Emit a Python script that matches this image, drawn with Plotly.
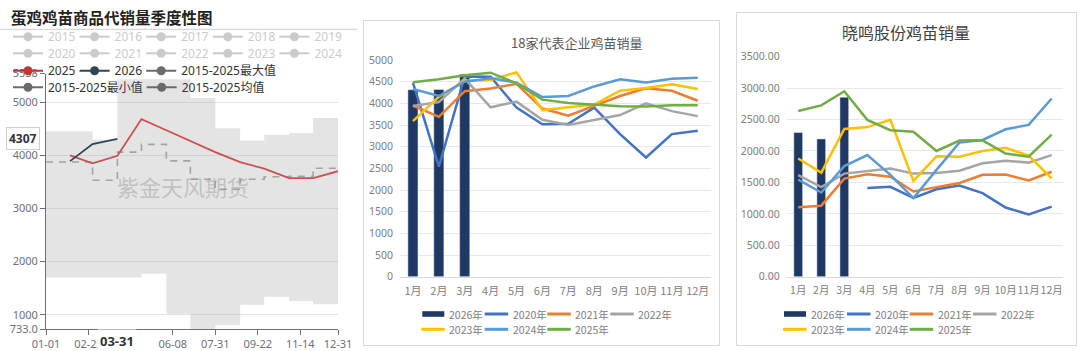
import plotly.graph_objects as go

W, H = 1080, 351
FONT = "Noto Sans, Noto Sans CJK SC, sans-serif"
CJK = "Noto Sans CJK SC, sans-serif"

# ---------------- Left panel: 蛋鸡鸡苗商品代销量季度性图 ----------------
left_month_ends = ['2025-01-31', '2025-02-28', '2025-03-31', '2025-04-30', '2025-05-31', '2025-06-30',
                   '2025-07-31', '2025-08-31', '2025-09-30', '2025-10-31', '2025-11-30', '2025-12-31']
left_step_start = '2025-01-01'
sales_2025 = [4000, 3850, 3990, 4680, 4470, 4270, 4060, 3870, 3750, 3570, 3570, 3700]
sales_2026 = [3890, 4210, 4307]
max_2015_2025 = [4450, 4450, 4290, 5430, 5430, 5430, 5075, 4510, 4280, 4380, 4420, 4700]
min_2015_2025 = [1700, 1700, 1700, 1700, 1770, 1020, 733, 810, 1190, 1340, 1260, 1200]
avg_2015_2025 = [3875, 3875, 3530, 4060, 4205, 3895, 3550, 3360, 3550, 3595, 3605, 3755]
hidden_years_row1 = ['2015', '2016', '2017', '2018', '2019']
hidden_years_row2 = ['2020', '2021', '2022', '2023', '2024']
left_tick_dates = ['2025-01-01', '2025-02-23', '2025-04-17', '2025-06-08', '2025-07-31',
                   '2025-09-22', '2025-11-14', '2025-12-31']
left_tick_text = ['01-01', '02-23', '', '06-08', '07-31', '09-22', '11-14', '12-31']
left_y_ticks = [733, 1000, 2000, 3000, 4000, 5000, 5538]
left_y_text = ['733.0', '1000', '2000', '3000', '4000', '5000', '5538']
pointer_date = '2025-03-31'
pointer_value = 4307

# ---------------- Middle panel: 18家代表企业鸡苗销量 ----------------
months = ['1月', '2月', '3月', '4月', '5月', '6月', '7月', '8月', '9月', '10月', '11月', '12月']
mid_2026 = [4315, 4320, 4670]
mid_2020 = [4480, 2540, 4620, 4615, 3900, 3515, 3530, 3900, 3290, 2750, 3290, 3370]
mid_2021 = [3950, 3690, 4280, 4340, 4450, 3880, 3715, 3940, 4170, 4346, 4290, 4060]
mid_2022 = [3940, 4030, 4570, 3908, 4040, 3620, 3500, 3615, 3730, 4000, 3820, 3705]
mid_2023 = [3590, 4150, 4520, 4540, 4715, 3840, 3910, 3970, 4290, 4355, 4440, 4330]
mid_2024 = [4330, 4170, 4500, 4577, 4477, 4145, 4170, 4390, 4557, 4480, 4565, 4592]
mid_2025 = [4485, 4555, 4650, 4707, 4460, 4085, 4010, 3975, 3930, 3925, 3955, 3958]

# ---------------- Right panel: 晓鸣股份鸡苗销量 ----------------
right_2026 = [2293, 2192, 2856]
right_2020 = [None, None, None, 1410, 1430, 1255, 1390, 1450, 1330, 1100, 990, 1115]
right_2021 = [1105, 1130, 1560, 1630, 1590, 1355, 1425, 1490, 1620, 1625, 1530, 1670]
right_2022 = [1615, 1425, 1640, 1680, 1720, 1640, 1650, 1685, 1805, 1845, 1815, 1935]
right_2023 = [1880, 1655, 2350, 2380, 2495, 1525, 1915, 1910, 2000, 2050, 1925, 1565]
right_2024 = [1545, 1340, 1760, 1935, 1620, 1250, 1700, 2135, 2175, 2345, 2415, 2835]
right_2025 = [2635, 2725, 2950, 2495, 2330, 2305, 2000, 2165, 2170, 1960, 1910, 2260]

bar_label = '2026年'
year_labels = ['2020年', '2021年', '2022年', '2023年', '2024年', '2025年']
excel_colors = ['#4472C4', '#ED7D31', '#A5A5A5', '#FFC000', '#5B9BD5', '#70AD47']
bar_color = '#203864'


def px(x):
    return x / W


def py(y):
    return 1 - y / H


fig = go.Figure()

# ---- left: band, average, 2025, 2026 ----
band_x = [left_step_start] + left_month_ends
fig.add_trace(go.Scatter(x=band_x, y=[min_2015_2025[0]] + min_2015_2025, mode='lines',
                         line=dict(width=0, shape='vh'), showlegend=False, hoverinfo='skip',
                         xaxis='x', yaxis='y'))
fig.add_trace(go.Scatter(x=band_x, y=[max_2015_2025[0]] + max_2015_2025, mode='lines',
                         line=dict(width=0, shape='vh'), fill='tonexty',
                         fillcolor='rgba(185,185,185,0.38)', showlegend=False,
                         xaxis='x', yaxis='y'))
fig.add_trace(go.Scatter(x=band_x, y=[avg_2015_2025[0]] + avg_2015_2025, mode='lines',
                         line=dict(width=1.6, color='#a3a3a3', dash='7px,6px', shape='vh'),
                         showlegend=False, xaxis='x', yaxis='y'))
fig.add_trace(go.Scatter(x=left_month_ends, y=sales_2025, mode='lines',
                         line=dict(width=1.8, color='#cf4e4e'), showlegend=False,
                         xaxis='x', yaxis='y'))
fig.add_trace(go.Scatter(x=left_month_ends[:len(sales_2026)], y=sales_2026, mode='lines',
                         line=dict(width=1.8, color='#2f4554'), showlegend=False,
                         xaxis='x', yaxis='y'))


# ---- left legend entries (ECharts style) ----
def legend_entry(name, color, legend, lw=None, hidden=False):
    kw = {}
    if lw is not None:
        kw['legendwidth'] = lw
    if hidden:
        kw['visible'] = 'legendonly'
    fig.add_trace(go.Scatter(x=[None], y=[None], name=name, mode='lines+markers',
                             line=dict(color=color, width=2),
                             marker=dict(color=color, size=9, symbol='circle'),
                             legend=legend, xaxis='x', yaxis='y', **kw))


for i, yr in enumerate(hidden_years_row1):
    legend_entry(yr, '#999999', 'legend', 21.6 if i < 4 else None, hidden=True)
for i, yr in enumerate(hidden_years_row2):
    legend_entry(yr, '#999999', 'legend2', 21.6 if i < 4 else None, hidden=True)
legend_entry('2025', '#c23531', 'legend3', 21.6)
legend_entry('2026', '#2f4554', 'legend3', 21.6)
legend_entry('2015-2025最大值', '#6b6b6b', 'legend3')
legend_entry('2015-2025最小值', '#6b6b6b', 'legend4', 88.7)
legend_entry('2015-2025均值', '#6b6b6b', 'legend4')

# ---- middle panel ----
fig.add_trace(go.Bar(x=months[:len(mid_2026)], y=mid_2026, name=bar_label, marker_color=bar_color,
                     width=0.39, showlegend=False, xaxis='x2', yaxis='y2'))
mid_series = [mid_2020, mid_2021, mid_2022, mid_2023, mid_2024, mid_2025]
for lab, col, vals in zip(year_labels, excel_colors, mid_series):
    fig.add_trace(go.Scatter(x=months, y=vals, name=lab, mode='lines',
                             line=dict(color=col, width=2.5), showlegend=False,
                             xaxis='x2', yaxis='y2'))

# ---- right panel ----
fig.add_trace(go.Bar(x=months[:len(right_2026)], y=right_2026, name=bar_label, marker_color=bar_color,
                     width=0.38, showlegend=False, xaxis='x3', yaxis='y3'))
right_series = [right_2020, right_2021, right_2022, right_2023, right_2024, right_2025]
for lab, col, vals in zip(year_labels, excel_colors, right_series):
    fig.add_trace(go.Scatter(x=months, y=vals, name=lab, mode='lines',
                             line=dict(color=col, width=2.5), showlegend=False,
                             connectgaps=False, xaxis='x3', yaxis='y3'))


def leg(x_text, y_center, size, color, family=FONT):
    return dict(x=px(x_text - 40), y=py(y_center), xanchor='left', yanchor='middle',
                xref='paper', yref='paper', orientation='h', bgcolor='rgba(0,0,0,0)',
                font=dict(size=size, color=color, family=family), itemwidth=30,
                traceorder='normal', tracegroupgap=0)


axis_grey = '#6e7079'
excel_grey = '#808080'

fig.update_layout(
    width=W, height=H, autosize=False,
    margin=dict(l=0, r=0, t=0, b=0, pad=0, autoexpand=False),
    paper_bgcolor='white', plot_bgcolor='white',
    showlegend=True,
    xaxis=dict(domain=[px(46), px(338)], type='date', range=['2025-01-01', '2025-12-31'],
               tickvals=left_tick_dates, ticktext=left_tick_text, ticks='outside', ticklen=5,
               tickcolor=axis_grey, showline=True, linecolor=axis_grey, showgrid=False,
               tickangle=0,
               tickfont=dict(size=11, color=axis_grey, family=FONT), anchor='y', fixedrange=True),
    yaxis=dict(domain=[py(329), py(73.5)], range=[733, 5538], tickvals=left_y_ticks,
               ticktext=left_y_text, ticks='outside', ticklen=5, tickcolor=axis_grey,
               showline=True, linecolor=axis_grey, showgrid=True, gridcolor='#e3e3e3',
               zeroline=False, tickfont=dict(size=11, color=axis_grey, family=FONT),
               anchor='x', fixedrange=True),
    xaxis2=dict(domain=[px(400), px(710.7)], type='category', categoryorder='array',
                categoryarray=months, range=[-0.5, 11.5], showline=True, linecolor='#d9d9d9',
                ticks='', showgrid=False, tickangle=0,
                tickfont=dict(size=11, color=excel_grey, family=CJK),
                ticklabelstandoff=4, anchor='y2', fixedrange=True),
    yaxis2=dict(domain=[py(276.7), py(60.0)], range=[0, 5000], dtick=500, showgrid=True,
                gridcolor='#e8e8e8', zeroline=False, showline=False, ticks='',
                tickfont=dict(size=10.5, color=excel_grey, family=FONT), ticklabelstandoff=6,
                anchor='x2', fixedrange=True),
    xaxis3=dict(domain=[px(786.7), px(1063.2)], type='category', categoryorder='array',
                categoryarray=months, range=[-0.5, 11.5], showline=True, linecolor='#d9d9d9',
                ticks='', showgrid=False, tickangle=0,
                tickfont=dict(size=10.5, color=excel_grey, family=CJK),
                ticklabelstandoff=4, anchor='y3', fixedrange=True),
    yaxis3=dict(domain=[py(276.7), py(56.7)], range=[0, 3500], dtick=500, tickformat='.2f',
                showgrid=True, gridcolor='#e8e8e8', zeroline=False, showline=False, ticks='',
                tickfont=dict(size=10.5, color=excel_grey, family=FONT), ticklabelstandoff=6,
                anchor='x3', fixedrange=True),
    legend=leg(48, 36.7, 12, '#999999'),
    legend2=leg(48, 53.3, 12, '#999999'),
    legend3=leg(48, 70.7, 12, '#333333'),
    legend4=leg(48, 87.3, 12, '#333333'),
)

shapes = [
    dict(type='line', xref='paper', yref='paper', x0=0, x1=px(357), y0=py(29.3), y1=py(29.3),
         line=dict(color='#cfcfcf', width=1)),
    dict(type='rect', xref='paper', yref='paper', x0=px(363.5), x1=px(719.5), y0=py(345.5),
         y1=py(20.5), line=dict(color='#d9d9d9', width=1)),
    dict(type='rect', xref='paper', yref='paper', x0=px(736.5), x1=px(1076.5), y0=py(345.5),
         y1=py(12.5), line=dict(color='#d9d9d9', width=1)),
]
annotations = [
    dict(text='<b>蛋鸡鸡苗商品代销量季度性图</b>', xref='paper', yref='paper', x=px(9), y=py(16.5),
         xanchor='left', yanchor='middle', showarrow=False,
         font=dict(size=15.5, color='#222222', family=CJK)),
    dict(text='紫金天风期货', xref='x', yref='y', x='2025-06-21', y=3430, showarrow=False,
         xanchor='center', yanchor='middle',
         font=dict(size=22, color='rgba(150,150,150,0.45)', family=CJK)),
    dict(text='<b>%d</b>' % pointer_value, xref='paper', yref='y', x=px(22.5), y=pointer_value,
         xanchor='center', yanchor='middle',
         showarrow=False, bgcolor='white', bordercolor='#d0d0d0', borderwidth=1, borderpad=2,
         font=dict(size=12, color='#333333', family=FONT)),
    dict(text='<b>03-31</b>', xref='x', yref='paper', x=pointer_date, y=py(340.5),
         xanchor='center', yanchor='middle',
         showarrow=False, bgcolor='white', borderpad=2,
         font=dict(size=13, color='#333333', family=FONT)),
    dict(text='18家代表企业鸡苗销量', xref='paper', yref='paper', x=px(576.5), y=py(42.7),
         xanchor='center', yanchor='middle',
         showarrow=False, font=dict(size=13, color='#595959', family=CJK)),
    dict(text='晓鸣股份鸡苗销量', xref='paper', yref='paper', x=px(906), y=py(31.7),
         xanchor='center', yanchor='middle',
         showarrow=False, font=dict(size=16, color='#404040', family=CJK)),
]


# ---- Excel-style legends (bar swatch + line swatches) for middle and right panels ----
def excel_legend(text_cols, row_y):
    entries = [(bar_label, bar_color, 'bar')] + [(l, c, 'line') for l, c in zip(year_labels, excel_colors)]
    for k, (lab, col, kind) in enumerate(entries):
        row, colidx = divmod(k, 4)
        tx = text_cols[colidx]
        ty = row_y[row]
        if kind == 'bar':
            shapes.append(dict(type='rect', xref='paper', yref='paper', x0=px(tx - 26), x1=px(tx - 4),
                               y0=py(ty + 2.8), y1=py(ty - 2.8), line=dict(width=0), fillcolor=col))
        else:
            shapes.append(dict(type='line', xref='paper', yref='paper', x0=px(tx - 27), x1=px(tx - 3.5),
                               y0=py(ty), y1=py(ty), line=dict(color=col, width=3)))
        annotations.append(dict(text=lab, xref='paper', yref='paper', x=px(tx - 1), y=py(ty),
                                xanchor='left', yanchor='middle', showarrow=False,
                                font=dict(size=10.5, color=excel_grey, family=CJK)))


excel_legend([448.3, 511.7, 574.3, 637.3], [314, 329.3])
excel_legend([810, 874, 936.7, 1000], [314, 329.3])

fig.update_layout(shapes=shapes, annotations=annotations)

fig.write_html('out.html')
